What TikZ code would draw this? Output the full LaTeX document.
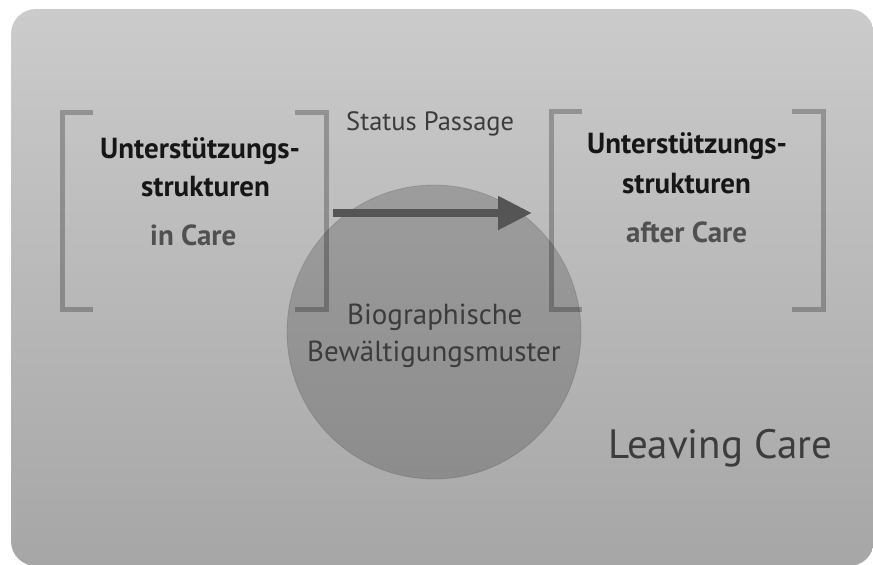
\documentclass[tikz,border=0pt]{standalone}
\usepackage{fontspec}
\setmainfont{PT Sans}
\usetikzlibrary{arrows.meta}
\definecolor{bgtop}{HTML}{CBCBCB}
\definecolor{bgbot}{HTML}{A6A6A6}
\definecolor{txtdark}{HTML}{161616}
\definecolor{txtmid}{HTML}{505050}
\definecolor{txtreg}{HTML}{3C3C3C}
\definecolor{arrowc}{HTML}{555555}
\tikzset{
  brack/.style={draw=black, draw opacity=0.25, line width=5pt},
  boldtxt/.style={anchor=base west, inner sep=0pt, text=txtdark, font=\fontsize{29}{31}\selectfont\bfseries},
  subtxt/.style={anchor=base west, inner sep=0pt, text=txtmid, font=\fontsize{29}{31}\selectfont\bfseries},
  regtxt/.style={anchor=base west, inner sep=0pt, text=txtreg},
}
\begin{document}
\begin{tikzpicture}[x=1pt,y=-1pt]
\useasboundingbox (0,0) rectangle (873,565);
\fill[white] (0,0) rectangle (873,565);
\shade[top color=bgtop, bottom color=bgbot, rounded corners=25pt] (11,9) rectangle (874,566);
% circle
\node[circle, minimum size=294pt, inner sep=0pt, fill=black, fill opacity=0.18, draw=black, draw opacity=0.12, line width=0.8pt] (circ) at (434,332) {};
% brackets
\coordinate (l1a) at (93,112); \coordinate (l1b) at (62,112); \coordinate (l1c) at (62,309); \coordinate (l1d) at (93,309);
\draw[brack] (l1a) -- (l1b) -- (l1c) -- (l1d);
\coordinate (r1a) at (295,112); \coordinate (r1b) at (326,112); \coordinate (r1c) at (326,309); \coordinate (r1d) at (295,309);
\draw[brack] (r1a) -- (r1b) -- (r1c) -- (r1d);
\coordinate (l2a) at (582,111); \coordinate (l2b) at (551,111); \coordinate (l2c) at (551,309); \coordinate (l2d) at (582,309);
\draw[brack] (l2a) -- (l2b) -- (l2c) -- (l2d);
\coordinate (r2a) at (792,111); \coordinate (r2b) at (823,111); \coordinate (r2c) at (823,309); \coordinate (r2d) at (792,309);
\draw[brack] (r2a) -- (r2b) -- (r2c) -- (r2d);
% arrow
\coordinate (as) at (333,213);
\coordinate (ae) at (532,213);
\draw[arrowc, line width=8pt, -{Triangle[length=34pt, width=32pt]}] (as) -- (ae);
% texts
\node[boldtxt] (lt1) at (100,158) {Unterstützungs-};
\node[boldtxt] (lt2) at (141,196) {strukturen};
\node[subtxt] (lt3) at (150,245) {in Care};
\node[boldtxt] (rt1) at (587,153) {Unterstützungs-};
\node[boldtxt] (rt2) at (622,193) {strukturen};
\node[subtxt] (rt3) at (626,242) {after Care};
\node[regtxt, font=\fontsize{26.5}{28}\selectfont] (sp) at (346,130) {Status Passage};
\node[regtxt, font=\fontsize{29}{31}\selectfont] (bio1) at (347,324) {Biographische};
\node[regtxt, font=\fontsize{29}{31}\selectfont] (bio2) at (307,361) {Bewältigungsmuster};
\node[regtxt, font=\fontsize{41}{43}\selectfont] (lc) at (608,458) {Leaving Care};
\end{tikzpicture}
\end{document}
